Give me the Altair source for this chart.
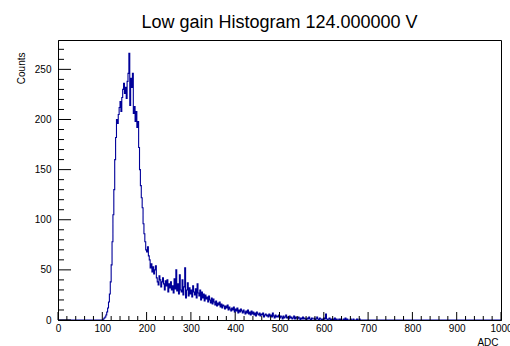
import altair as alt
import pandas as pd

# ---- data (bin width 2 ADC, first listed bin starts at 96) ----
bin_width = 2
first_bin = 96
counts_region = [
    0, 0, 0, 1, 2, 3, 5, 8, 12, 18,            # 96-114
    26, 38, 55, 78, 105, 130, 160, 182, 200, 196,  # 116-134
    205, 212, 218, 208, 222, 230, 236, 226, 232, 221,  # 136-154
    238, 246, 266, 214, 241, 232, 246, 206, 213, 198,  # 156-174
    208, 192, 198, 172, 150, 134, 122, 112, 96, 86,    # 176-194
    78, 70, 68, 73, 64, 60, 52, 56, 48, 53,            # 196-214
    46, 50, 54, 42, 38, 35, 44, 40, 33, 38,            # 216-234
    42, 36, 30, 39, 34, 40, 28, 36, 32, 38,            # 236-254
    30, 34, 27, 41, 31, 50, 29, 36, 26, 45,            # 256-274
    30, 28, 40, 25, 33, 52, 22, 30, 37, 24,            # 276-294
    32, 26, 30, 23, 34, 28, 25, 31, 22, 36,            # 296-314
    27, 24, 30, 20, 28, 22, 26, 19, 25, 21,            # 316-334
    23, 18, 24, 20, 17, 22, 16, 21, 18, 15,            # 336-354
    19, 14, 17, 15, 18, 13, 16, 12, 15, 14,            # 356-374
    11, 14, 12, 15, 10, 13, 11, 9, 12, 10,             # 376-394
    13, 8, 11, 9, 12, 7, 10, 8, 11, 9,                 # 396-414
    7, 10, 8, 6, 9, 7, 10, 6, 8, 5,                    # 416-434
    9, 6, 8, 5, 7, 4, 8, 6, 5, 7,                      # 436-454
    4, 6, 5, 7, 3, 5, 6, 4, 5, 3,                      # 456-474
    6, 4, 5, 3, 7, 4, 2, 5, 3, 4,                      # 476-494
    3, 5, 2, 4, 3, 1, 4, 2, 3, 5,                      # 496-514
    2, 3, 1, 4, 2, 3, 1, 2, 4, 1,                      # 516-534
    3, 2, 1, 3, 2, 0, 2, 1, 3, 1,                      # 536-554
    2, 1, 0, 2, 1, 3, 1, 0, 2, 1,                      # 556-574
    1, 2, 0, 1, 3, 1, 0, 2, 1, 0,                      # 576-594
    1, 0, 2, 1, 6, 1, 0, 1, 2, 0,                      # 596-614
    1, 0, 1, 0, 2, 0, 1, 0, 0, 1,                      # 616-634
    0, 1, 0, 0, 1, 0, 2, 0, 1, 0,                      # 636-654
    0, 0, 1, 0, 0, 1, 0, 0, 0, 1,                      # 656-674
    0, 0, 1, 0, 0, 0, 0, 0, 0, 0,                      # 676-694
]
x_range = [0, 1000]
x_major = [0, 100, 200, 300, 400, 500, 600, 700, 800, 900, 1000]
x_minor = [v for v in range(0, 1001, 20) if v % 100 != 0]
y_major = [0, 50, 100, 150, 200, 250]
y_minor = [v for v in range(0, 280, 10) if v % 50 != 0]
y_max = 279.3

title_text = "Low gain Histogram 124.000000 V"
x_title = "ADC"
y_title = "Counts"

# ---- build table ----
n_bins = (x_range[1] - x_range[0]) // bin_width
counts = [0] * n_bins
for i, c in enumerate(counts_region):
    counts[(first_bin - x_range[0]) // bin_width + i] = c
edges = [x_range[0] + i * bin_width for i in range(n_bins)] + [x_range[1]]
hist = pd.DataFrame({"adc": edges, "count": counts + [0]})

W, H = 443, 280
FONT = "Liberation Sans"

xscale = alt.Scale(domain=x_range, nice=False, zero=False)
yscale = alt.Scale(domain=[0, y_max], nice=False)

xaxis = alt.Axis(values=x_major, format="d", ticks=False, grid=False, domainColor="black",
                 labelFont=FONT, labelFontSize=10, labelColor="black",
                 labelPadding=3, labelFlush=False, labelOverlap=False,
                 title=x_title, titleFont=FONT, titleFontSize=10, titleColor="black",
                 titleFontWeight="normal", titleAnchor="end",
                 titleAlign="right", titleBaseline="alphabetic",
                 titleX=W - 3, titleY=25)
yaxis = alt.Axis(values=y_major, format="d", ticks=False, grid=False, domainColor="black",
                 labelFont=FONT, labelFontSize=10, labelColor="black",
                 labelPadding=7, labelFlush=False, labelOverlap=False,
                 title=y_title, titleFont=FONT, titleFontSize=10, titleColor="black",
                 titleFontWeight="normal", titleAngle=270,
                 titleAlign="right", titleBaseline="alphabetic",
                 titleX=-34, titleY=12)

line = alt.Chart(hist).mark_line(
    interpolate="step-after", color="#000099", strokeWidth=1.1, clip=True
).encode(
    x=alt.X("adc:Q", scale=xscale, axis=xaxis),
    y=alt.Y("count:Q", scale=yscale, axis=yaxis),
)

def xticks(vals, length):
    df = pd.DataFrame({"adc": vals})
    return alt.Chart(df).mark_rule(color="black", strokeWidth=1).encode(
        x=alt.X("adc:Q", scale=xscale, axis=xaxis),
        y=alt.value(H), y2=alt.value(H - length))

def yticks(vals, length):
    df = pd.DataFrame({"count": vals})
    return alt.Chart(df).mark_rule(color="black", strokeWidth=1).encode(
        y=alt.Y("count:Q", scale=yscale, axis=yaxis),
        x=alt.value(0), x2=alt.value(length))

chart = alt.layer(
    line,
    xticks(x_major, 8), xticks(x_minor, 4),
    yticks(y_major, 13), yticks(y_minor, 6),
).properties(
    width=W, height=H,
    title=alt.Title(title_text, font=FONT, fontSize=18, fontWeight="normal",
                    color="black", anchor="middle", baseline="alphabetic",
                    frame="group", offset=13, dy=19),
    autosize=alt.AutoSizeParams(type="none"),
    padding={"left": 58, "top": 40, "right": 9, "bottom": 26},
).configure(background="white").configure_view(stroke="black", strokeWidth=1)

chart.save("out.html", embed_options={"renderer": "svg", "actions": False})
